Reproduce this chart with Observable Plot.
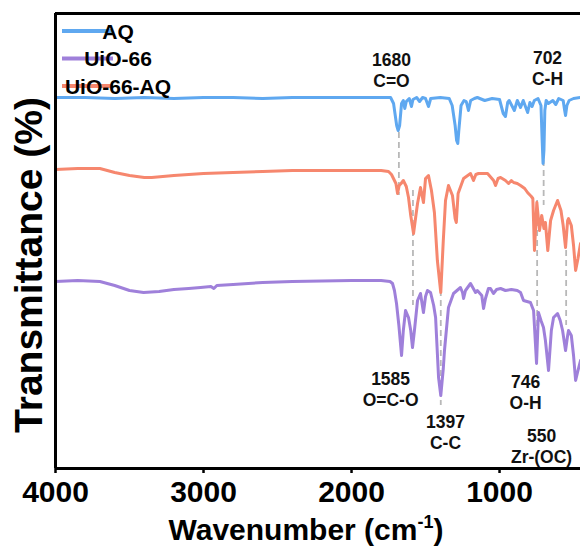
<!DOCTYPE html>
<html><head><meta charset="utf-8">
<script src="https://cdn.jsdelivr.net/npm/d3@7"></script>
<script src="https://cdn.jsdelivr.net/npm/@observablehq/plot@0.6"></script>
<style>
body{margin:0;background:#fff;}
#chart{width:580px;height:550px;}
</style></head><body><div id="chart"></div>
<script>
// Series names (legend order)
const seriesNames = ["AQ", "UiO-66", "UiO-66-AQ"];

// Spectra: [wavenumber (cm-1), transmittance (arb., offset)]
const aqSpectrum = [[4000,371],[3800,371],[3600,370],[3400,371],[3200,370],[3000,371],[2800,371],[2600,370],[2400,371],[2200,371],[2000,371],[1800,371],[1736,371],[1716,365],[1695,343],[1685,338],[1675,343],[1662,365],[1650,368],[1640,360],[1630,367],[1610,370],[1595,362],[1585,369],[1560,371],[1540,367],[1520,371],[1500,370],[1480,362],[1465,370],[1400,371],[1340,370],[1320,363],[1300,343],[1290,328],[1282,325],[1275,338],[1260,363],[1240,368],[1225,367],[1210,358],[1195,368],[1170,370],[1150,371],[1100,368],[1050,370],[1000,369],[975,355],[960,352],[945,366],[935,368],[900,358],[880,368],[858,361],[840,368],[810,356],[795,366],[780,362],[765,368],[740,370],[720,363],[712,328],[706,305],[700,318],[694,358],[685,368],[670,365],[640,368],[620,364],[600,370],[570,368],[560,358],[554,353],[545,363],[530,368],[500,370],[453,371]];

const uioSpectrum = [[4000,187],[3850,188],[3700,187],[3600,183],[3500,178],[3405,176],[3300,177],[3200,179],[3100,180],[3020,181],[2950,182],[2930,180],[2910,183],[2800,184],[2600,186],[2400,187],[2000,188],[1800,188],[1740,187],[1723,185],[1710,178],[1696,165],[1680,143],[1662,113],[1650,138],[1635,158],[1615,151],[1600,138],[1588,121],[1575,138],[1554,168],[1534,175],[1514,156],[1500,172],[1487,178],[1466,176],[1445,163],[1432,151],[1412,91],[1397,73],[1380,100],[1372,118],[1345,161],[1311,175],[1264,181],[1250,176],[1243,170],[1230,178],[1196,185],[1162,176],[1150,178],[1120,173],[1108,160],[1095,170],[1075,180],[1061,180],[1041,175],[1020,179],[993,180],[960,178],[920,179],[880,178],[858,176],[838,168],[791,166],[770,158],[750,105],[737,156],[720,148],[703,141],[690,128],[669,98],[650,138],[635,151],[608,155],[590,148],[574,138],[554,118],[540,133],[534,138],[515,133],[500,113],[486,88],[470,98],[453,108]];

const uioAqSpectrum = [[4000,299],[3850,300],[3700,300],[3600,296],[3500,293],[3400,291],[3350,291],[3200,293],[3000,295],[2800,296],[2600,297],[2400,298],[2200,298],[2000,298],[1800,298],[1750,297],[1730,294],[1710,288],[1700,285],[1689,275],[1678,283],[1665,285],[1650,288],[1630,282],[1615,271],[1600,253],[1581,235],[1565,253],[1554,265],[1534,281],[1514,266],[1500,290],[1480,293],[1460,278],[1440,256],[1420,208],[1397,176],[1380,228],[1365,268],[1345,283],[1318,273],[1300,250],[1292,246],[1280,275],[1243,290],[1196,295],[1176,288],[1160,294],[1142,295],[1081,295],[1040,288],[1027,283],[1010,290],[993,291],[960,288],[939,285],[920,288],[905,286],[880,285],[858,283],[830,280],[811,276],[785,272],[775,270],[764,218],[748,266],[730,238],[715,253],[700,240],[690,246],[674,218],[655,248],[635,258],[608,268],[585,258],[570,243],[554,221],[540,248],[534,250],[515,243],[500,223],[486,198],[470,210],[453,225]];

// Peak guides: [wavenumber, upper transmittance, lower transmittance]
const peakGuides = [[1680,336,273],[1585,278,163],[1397,178,63],[746,268,108],[702,318,263],[550,218,143]];

// Peak annotations: [label position wavenumber, label position transmittance, text]
const peakLabels = [
  [1730, 399, "1680\nC=O"],
  [676, 401, "702\nC-H"],
  [1736, 80, "1585\nO=C-O"],
  [824, 77, "746\nO-H"],
  [1365, 37, "1397\nC-C"],
  [716, 23, "550\nZr-(OC)"]
];

// Axis ticks
const xTicks = [4000, 3000, 2000, 1000];
const xDomain = [4000, 453];
const yDomain = [0, 455];

const colors = {"AQ": "#5fa8f0", "UiO-66": "#9f80da", "UiO-66-AQ": "#f6876e"};
const FONT = '"Liberation Sans", Arial, sans-serif';

const rows = [
  ...aqSpectrum.map(([w, t]) => ({series: "AQ", w, t})),
  ...uioAqSpectrum.map(([w, t]) => ({series: "UiO-66-AQ", w, t})),
  ...uioSpectrum.map(([w, t]) => ({series: "UiO-66", w, t}))
];
const guides = peakGuides.map(([w, t1, t2]) => ({w, t1, t2}));
const labels = peakLabels.map(([w, t, text]) => ({w, t, text}));

const plot = Plot.plot({
  width: 580,
  height: 550,
  marginLeft: 55,
  marginRight: 0,
  marginTop: 13,
  marginBottom: 82,
  style: {fontFamily: FONT, fontWeight: "bold", background: "#fff", color: "#000"},
  x: {domain: xDomain, label: null},
  y: {domain: yDomain, axis: null},
  color: {domain: seriesNames, range: seriesNames.map(s => colors[s])},
  marks: [
    Plot.ruleX(guides, {x: "w", y1: "t1", y2: "t2", stroke: "#b8b8b8", strokeWidth: 1.8, strokeDasharray: "6,4"}),
    Plot.line(rows, {x: "w", y: "t", z: "series", stroke: "series", strokeWidth: 3, strokeLinejoin: "round"}),
    Plot.text(labels, {x: "w", y: "t", text: "text", fontSize: 17.5, fontWeight: "bold", lineHeight: 1.25, lineAnchor: "middle", fill: "#111"}),
    Plot.ruleY([yDomain[0], yDomain[1]], {stroke: "#000", strokeWidth: 3}),
    Plot.ruleX([xDomain[0]], {stroke: "#000", strokeWidth: 3}),
    Plot.axisX(xTicks, {tickSize: 5, tickPadding: 7, strokeWidth: 2.5, fontSize: 30, fontWeight: "bold", tickFormat: d => String(d), label: null})
  ]
});

const svg = d3.select(plot);
// Legend
const lg = svg.append("g").attr("font-family", FONT).attr("font-weight", "bold").attr("font-size", 21);
seriesNames.forEach((name, i) => {
  const y = 31 + i * 27.5;
  lg.append("line").attr("x1", 62).attr("x2", 113).attr("y1", y).attr("y2", y)
    .attr("stroke", colors[name]).attr("stroke-width", 4);
  lg.append("text").attr("x", 118).attr("y", y).attr("dy", "0.36em").attr("fill", "#000").text(name);
});
// X axis title with superscript
const xt = svg.append("text").attr("x", 306).attr("y", 540).attr("text-anchor", "middle")
  .attr("font-family", FONT).attr("font-weight", "bold").attr("font-size", 30).attr("fill", "#000");
xt.append("tspan").text("Wavenumber (cm");
xt.append("tspan").attr("dy", -12).attr("font-size", 18).text("-1");
xt.append("tspan").attr("dy", 12).text(")");
// Y axis title
svg.append("text").attr("transform", "translate(42,265) rotate(-90)").attr("text-anchor", "middle")
  .attr("font-family", FONT).attr("font-weight", "bold").attr("font-size", 39).attr("fill", "#000")
  .text("Transmittance (%)");

document.getElementById("chart").appendChild(plot);
</script>
</body></html>
